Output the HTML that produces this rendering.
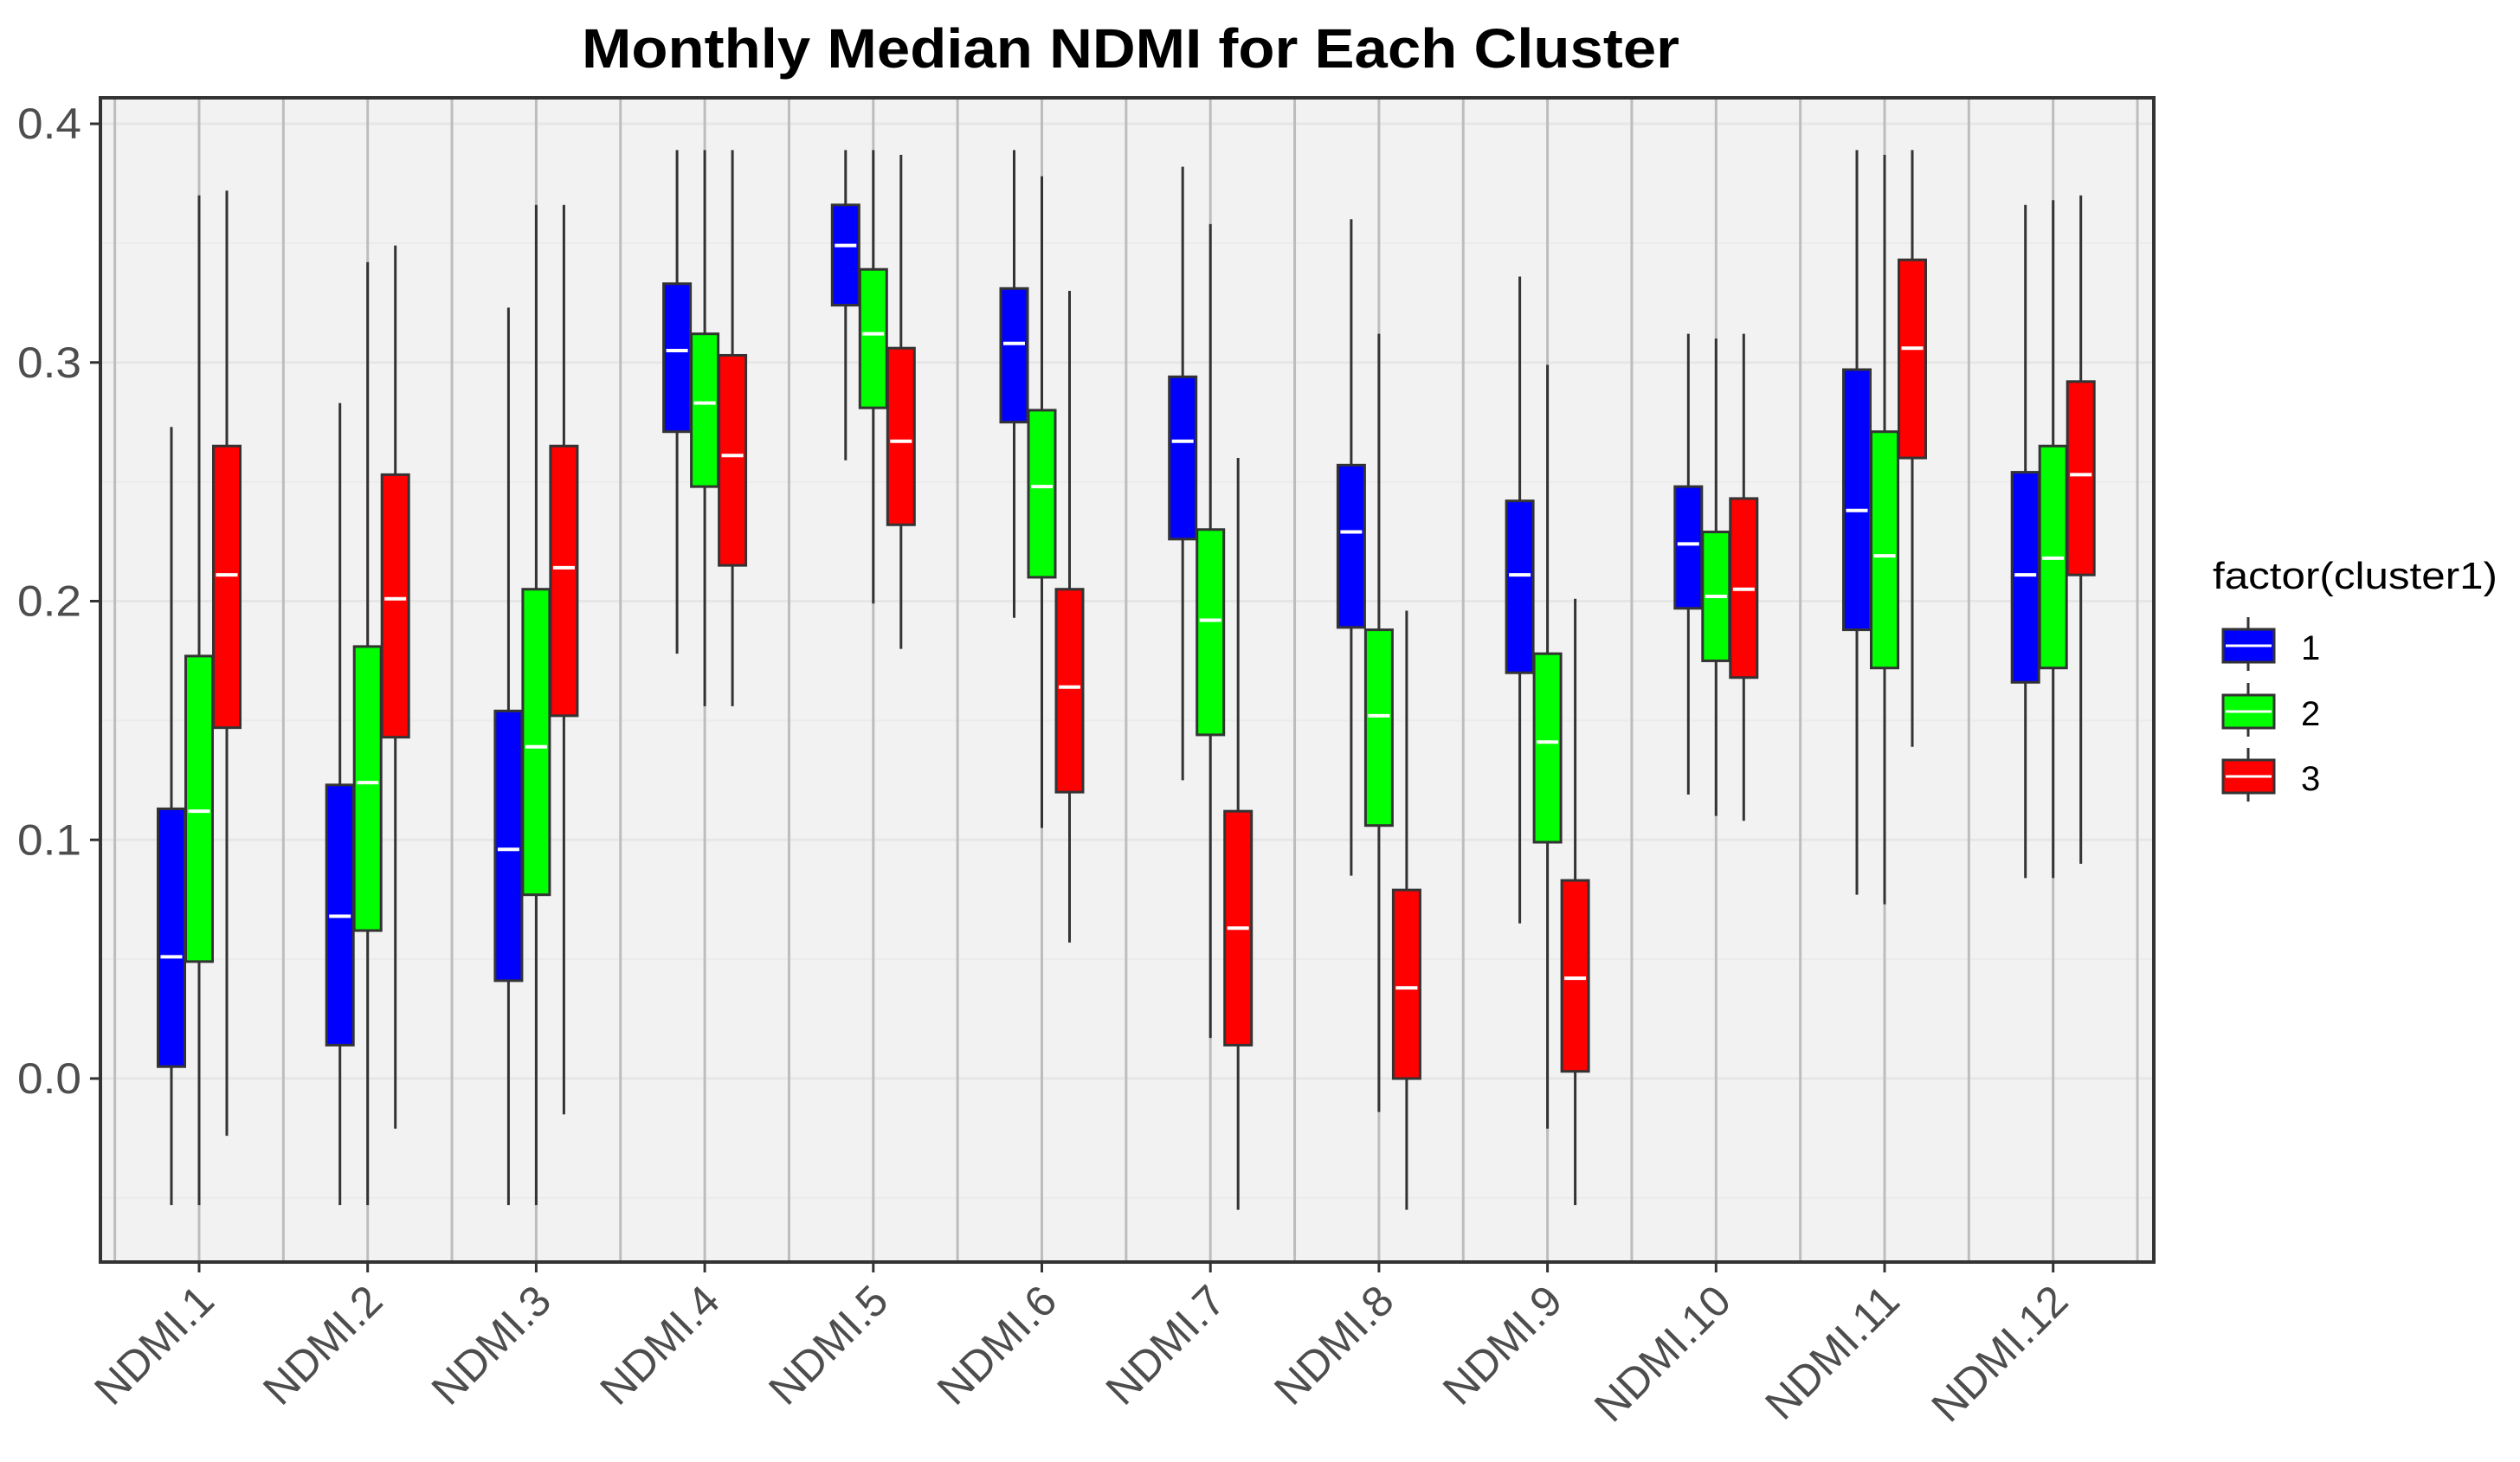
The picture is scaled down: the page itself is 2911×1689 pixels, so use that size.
<!DOCTYPE html>
<html><head><meta charset="utf-8"><style>
html,body{margin:0;padding:0;background:#fff;}
svg{display:block;font-family:"Liberation Sans",sans-serif;}
</style></head><body>
<svg id="chart" width="2911" height="1689" viewBox="0 0 2911 1689" xmlns="http://www.w3.org/2000/svg">
<rect x="0" y="0" width="2911" height="1689" fill="#fff"/>
<text x="1306" y="78" text-anchor="middle" font-size="64" font-weight="bold" fill="#000" textLength="1268" lengthAdjust="spacingAndGlyphs">Monthly Median NDMI for Each Cluster</text>
<g id="plot"></g>
<g id="legend">
<text x="2556" y="680" font-size="44" fill="#000" textLength="329" lengthAdjust="spacingAndGlyphs">factor(cluster1)</text>
</g>
</svg>
<script>
const categories = ["NDMI.1","NDMI.2","NDMI.3","NDMI.4","NDMI.5","NDMI.6","NDMI.7","NDMI.8","NDMI.9","NDMI.10","NDMI.11","NDMI.12"];
const clusters = ["1","2","3"];
const clusterColors = ["#0000ff","#00ff00","#ff0000"];
const yTicks = [0.0,0.1,0.2,0.3,0.4];
const yTickLabels = ["0.0","0.1","0.2","0.3","0.4"];
// [low, q1, median, q3, high] per category
const cluster1 = [
 [-0.053,0.005,0.051,0.113,0.273],[-0.053,0.014,0.068,0.123,0.283],[-0.053,0.041,0.096,0.154,0.323],
 [0.178,0.271,0.305,0.333,0.389],[0.259,0.324,0.349,0.366,0.389],[0.193,0.275,0.308,0.331,0.389],
 [0.125,0.226,0.267,0.294,0.382],[0.085,0.189,0.229,0.257,0.360],[0.065,0.170,0.211,0.242,0.336],
 [0.119,0.197,0.224,0.248,0.312],[0.077,0.188,0.238,0.297,0.389],[0.084,0.166,0.211,0.254,0.366]];
const cluster2 = [
 [-0.053,0.049,0.112,0.177,0.370],[-0.053,0.062,0.124,0.181,0.342],[-0.053,0.077,0.139,0.205,0.366],
 [0.156,0.248,0.283,0.312,0.389],[0.199,0.281,0.312,0.339,0.389],[0.105,0.210,0.248,0.280,0.378],
 [0.017,0.144,0.192,0.230,0.358],[-0.014,0.106,0.152,0.188,0.312],[-0.021,0.099,0.141,0.178,0.299],
 [0.110,0.175,0.202,0.229,0.310],[0.073,0.172,0.219,0.271,0.387],[0.084,0.172,0.218,0.265,0.368]];
const cluster3 = [
 [-0.024,0.147,0.211,0.265,0.372],[-0.021,0.143,0.201,0.253,0.349],[-0.015,0.152,0.214,0.265,0.366],
 [0.156,0.215,0.261,0.303,0.389],[0.180,0.232,0.267,0.306,0.387],[0.057,0.120,0.164,0.205,0.330],
 [-0.055,0.014,0.063,0.112,0.260],[-0.055,0.000,0.038,0.079,0.196],[-0.053,0.003,0.042,0.083,0.201],
 [0.108,0.168,0.205,0.243,0.312],[0.139,0.260,0.306,0.343,0.389],[0.090,0.211,0.253,0.292,0.370]];
const seriesData = [cluster1, cluster2, cluster3];

const NS = "http://www.w3.org/2000/svg";
const PL = 116, PR = 2488, PT = 113, PB = 1458;
const yScale = v => 1246 - v * 2757.5;
const xScale = i => 230 + i * 194.7;
const dodge = 32, boxW = 31;
const plot = document.getElementById('plot');
function mk(tag, attrs, parent) {
  const e = document.createElementNS(NS, tag);
  for (const k in attrs) e.setAttribute(k, attrs[k]);
  (parent || plot).appendChild(e);
  return e;
}
const bg = mk('rect', {x:PL, y:PT, width:PR-PL, height:PB-PT, fill:'#f2f2f2'});


for (let v = -0.05; v <= 0.401; v += 0.05) {
  const isMajor = Math.abs(Math.round(v*10) - v*10) < 1e-6;
  const g = mk('line', {x1:PL, x2:PR, y1:yScale(v), y2:yScale(v), stroke: isMajor ? '#e6e6e6' : '#ebebeb', 'stroke-width': isMajor ? 3 : 2});
  
  
}
for (let k = -0.5; k <= categories.length - 0.5 + 1e-6; k += 0.5) {
  const g = mk('line', {x1:xScale(k), x2:xScale(k), y1:PT, y2:PB, stroke:'#bdbdbd', 'stroke-width':3});
  
  
}
seriesData.forEach((ser, s) => {
  ser.forEach((d, i) => {
    const cx = xScale(i) + (s - 1) * dodge;
    const g = mk('g', {});
    
    
    mk('line', {x1:cx, x2:cx, y1:yScale(d[4]), y2:yScale(d[0]), stroke:'#333', 'stroke-width':3}, g);
    mk('rect', {x:cx-boxW/2, y:yScale(d[3]), width:boxW, height:yScale(d[1])-yScale(d[3]), fill:clusterColors[s], stroke:'#333', 'stroke-width':3}, g);
    mk('line', {x1:cx-boxW/2+3, x2:cx+boxW/2-3, y1:yScale(d[2]), y2:yScale(d[2]), stroke:'#fff', 'stroke-width':4}, g);
  });
});
const border = mk('rect', {x:PL, y:PT, width:PR-PL, height:PB-PT, fill:'none', stroke:'#333', 'stroke-width':4});


yTicks.forEach((v, j) => {
  const t = mk('line', {x1:PL-12, x2:PL, y1:yScale(v), y2:yScale(v), stroke:'#333', 'stroke-width':3});
  
  
  const l = mk('text', {x:PL-22, y:yScale(v)+17, 'text-anchor':'end', 'font-size':50, fill:'#4d4d4d', textLength:74, lengthAdjust:'spacingAndGlyphs'});
  l.textContent = yTickLabels[j];
  
  
});
categories.forEach((c, i) => {
  const x = xScale(i);
  const t = mk('line', {x1:x, x2:x, y1:PB, y2:PB+12, stroke:'#333', 'stroke-width':3});
  
  
  const l = mk('text', {x:x+20, y:PB+48, 'text-anchor':'end', 'font-size':50, fill:'#4d4d4d', transform:'rotate(-45 '+(x+20)+' '+(PB+48)+')'});
  l.textContent = c;
  
  
});
const legend = document.getElementById('legend');
const keyY = [746, 822, 897];
clusters.forEach((c, s) => {
  const g = mk('g', {}, legend);
  
  
  const cy = keyY[s];
  mk('line', {x1:2597, x2:2597, y1:cy-33, y2:cy+29, stroke:'#333', 'stroke-width':3}, g);
  mk('rect', {x:2568, y:cy-19, width:59, height:38, fill:clusterColors[s], stroke:'#333', 'stroke-width':3}, g);
  mk('line', {x1:2571, x2:2624, y1:cy, y2:cy, stroke:'#fff', 'stroke-width':3}, g);
  const t = mk('text', {x:2658, y:cy+16, 'font-size':40, fill:'#000'}, g);
  t.textContent = c;
});
</script>
</body></html>
